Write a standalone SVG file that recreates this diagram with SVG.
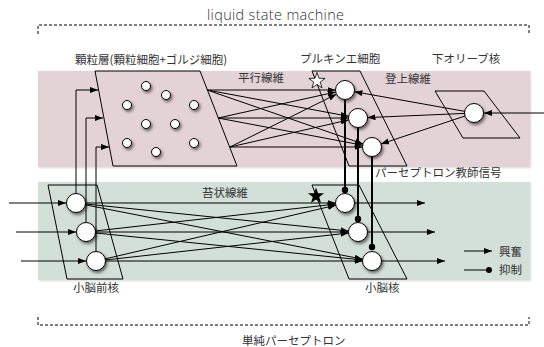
<svg xmlns="http://www.w3.org/2000/svg" xmlns:xlink="http://www.w3.org/1999/xlink" width="544" height="347" viewBox="0 0 544 347">
<defs>
<style>
.t{font-family:"Noto Sans CJK JP","Liberation Sans",sans-serif;font-size:11.5px;fill:#333}
.ln{stroke:#000;stroke-width:1;fill:none}
.ex{stroke:#000;stroke-width:1;fill:none;marker-end:url(#ah)}
.inh{stroke:#000;stroke-width:2;fill:none;marker-end:url(#dot)}
.pg{stroke:#000;stroke-width:1;fill:none}
.cell{fill:#fff;stroke:#000;stroke-width:1;filter:url(#sh)}
.dash{stroke:#000;stroke-width:1;fill:none;stroke-dasharray:3 2}
</style>
<filter id="sh" x="-50%" y="-50%" width="200%" height="200%">
<feDropShadow dx="1.5" dy="2" stdDeviation="1.5" flood-color="#000" flood-opacity="0.55"/>
</filter>
<filter id="bsh" x="-5%" y="-5%" width="110%" height="115%">
<feDropShadow dx="1" dy="1" stdDeviation="1" flood-color="#000" flood-opacity="0.15"/>
</filter>
<marker id="ah" markerUnits="userSpaceOnUse" markerWidth="9" markerHeight="7" refX="8" refY="3" orient="auto">
<path d="M0,0 L8,3 L0,6 z" fill="#000"/>
</marker>
<marker id="dot" markerUnits="userSpaceOnUse" markerWidth="8" markerHeight="8" refX="4" refY="4" orient="auto">
<circle cx="4" cy="4" r="3.2" fill="#000"/>
</marker>
<path id="star" d="M0,-8.5 L2,-2.75 L8.08,-2.63 L3.23,1.05 L5,6.88 L0,3.4 L-5,6.88 L-3.23,1.05 L-8.08,-2.63 L-2,-2.75 z"/>
</defs>

<g id="bands">
<rect id="band-cortex" x="38" y="71" width="492" height="96" fill="#e4d3d6" filter="url(#bsh)"/>
<rect id="band-nuclei" x="38" y="182" width="492" height="98" fill="#d3e0d7" filter="url(#bsh)"/>
</g>

<g id="frames">
<path class="dash" d="M38,34 L38,25 L529,25 L529,34"/>
<text x="207" y="20" font-family="'Open Sans', 'Liberation Sans', sans-serif" font-weight="300" font-size="14.5" fill="#333" textLength="137" lengthAdjust="spacing">liquid state machine</text>
<path class="dash" d="M38,317 L38,325 L529,325 L529,317"/>
<text class="t" x="242" y="345">単純パーセプトロン</text>
</g>

<g id="granular-layer">
<polygon class="pg" points="95,71 200,71 237,166 113,166"/>
<text class="t" x="75" y="64">顆粒層(顆粒細胞+ゴルジ細胞)</text>
<g fill="#fff" stroke="#000" stroke-width="1" filter="url(#sh)">
<circle cx="146" cy="86" r="4.5"/>
<circle cx="166" cy="95" r="4.5"/>
<circle cx="127" cy="105" r="4.5"/>
<circle cx="194" cy="105" r="4.5"/>
<circle cx="146" cy="124" r="4.5"/>
<circle cx="175" cy="124" r="4.5"/>
<circle cx="127" cy="143" r="4.5"/>
<circle cx="194" cy="143" r="4.5"/>
<circle cx="156" cy="152" r="4.5"/>
</g>
</g>

<g id="purkinje">
<polygon class="pg" points="312,71 360,71 407,166 349,166"/>
<text class="t" x="300" y="63">プルキンエ細胞</text>
<text class="t" x="375" y="177">パーセプトロン教師信号</text>
</g>

<g id="olive">
<polygon class="pg" points="435,91 484,91 520,138 463,138"/>
<text class="t" x="432" y="63">下オリーブ核</text>
</g>

<g id="precerebellar">
<polygon class="pg" points="48,185 97,185 123,279 67,279"/>
<text class="t" x="73" y="292">小脳前核</text>
</g>

<g id="deep-nuclei">
<polygon class="pg" points="312,185 359,185 407,279 349,279"/>
<text class="t" x="365" y="292">小脳核</text>
</g>

<g id="fiber-labels">
<text class="t" x="238" y="82">平行線維</text>
<text class="t" x="385" y="83">登上線維</text>
<text class="t" x="202" y="197">苔状線維</text>
</g>

<g id="connectors">
<line class="ex" x1="9" y1="203" x2="66" y2="203"/>
<line class="ex" x1="16" y1="232" x2="76" y2="232"/>
<line class="ex" x1="21" y1="261" x2="86" y2="261"/>
<polyline class="ex" points="76,203 76,90 98,90"/>
<polyline class="ex" points="86,232 86,118 103,118"/>
<polyline class="ex" points="96,261 96,147 109,147"/>
<line class="ex" x1="207" y1="90" x2="335.5" y2="90"/>
<line class="ex" x1="207" y1="90" x2="348.7" y2="116.3"/>
<line class="ex" x1="207" y1="90" x2="363" y2="143.9"/>
<line class="ex" x1="218" y1="118" x2="335.7" y2="92"/>
<line class="ex" x1="218" y1="118" x2="348.5" y2="118"/>
<line class="ex" x1="218" y1="118" x2="362.7" y2="145.2"/>
<line class="ex" x1="230" y1="147" x2="336.5" y2="94.2"/>
<line class="ex" x1="230" y1="147" x2="348.7" y2="119.9"/>
<line class="ex" x1="230" y1="147" x2="362.5" y2="147"/>
<line class="ex" x1="544" y1="113" x2="484" y2="113"/>
<line class="ex" x1="474" y1="113" x2="354.4" y2="91.7"/>
<line class="ex" x1="474" y1="113" x2="367.5" y2="117.6"/>
<line class="ex" x1="474" y1="113" x2="381" y2="144"/>
<line class="ex" x1="76" y1="203" x2="335.5" y2="203"/>
<line class="ex" x1="76" y1="203" x2="348.5" y2="231"/>
<line class="ex" x1="76" y1="203" x2="362.7" y2="259.2"/>
<line class="ex" x1="86" y1="232" x2="335.6" y2="204.1"/>
<line class="ex" x1="86" y1="232" x2="348.5" y2="232"/>
<line class="ex" x1="86" y1="232" x2="362.6" y2="260"/>
<line class="ex" x1="96" y1="261" x2="335.8" y2="205.2"/>
<line class="ex" x1="96" y1="261" x2="348.6" y2="233"/>
<line class="ex" x1="96" y1="261" x2="362.5" y2="261"/>
<line class="inh" x1="345" y1="90" x2="345" y2="190"/>
<line class="inh" x1="358" y1="118" x2="358" y2="219"/>
<line class="inh" x1="372" y1="147" x2="372" y2="247"/>
<line class="ex" x1="345" y1="203" x2="425" y2="203"/>
<line class="ex" x1="358" y1="232" x2="435" y2="232"/>
<line class="ex" x1="372" y1="261" x2="445" y2="261"/>
</g>

<g id="cells">
<circle class="cell" cx="345" cy="90" r="9.5"/>
<circle class="cell" cx="358" cy="118" r="9.5"/>
<circle class="cell" cx="372" cy="147" r="9.5"/>
<circle class="cell" cx="474" cy="113" r="9.5"/>
<circle class="cell" cx="76" cy="203" r="9.5"/>
<circle class="cell" cx="86" cy="232" r="9.5"/>
<circle class="cell" cx="96" cy="261" r="9.5"/>
<circle class="cell" cx="345" cy="203" r="9.5"/>
<circle class="cell" cx="358" cy="232" r="9.5"/>
<circle class="cell" cx="372" cy="261" r="9.5"/>
</g>

<g id="stars">
<use xlink:href="#star" href="#star" x="317" y="81" fill="#fff" stroke="#000" stroke-width="0.8"/>
<use xlink:href="#star" href="#star" x="316" y="196" fill="#000"/>
</g>

<g id="legend">
<line class="ex" x1="464" y1="251" x2="492" y2="251"/>
<text class="t" x="499" y="256">興奮</text>
<line class="ln" x1="464" y1="270" x2="489" y2="270"/>
<circle cx="489" cy="270" r="3" fill="#000"/>
<text class="t" x="499" y="274">抑制</text>
</g>
</svg>
